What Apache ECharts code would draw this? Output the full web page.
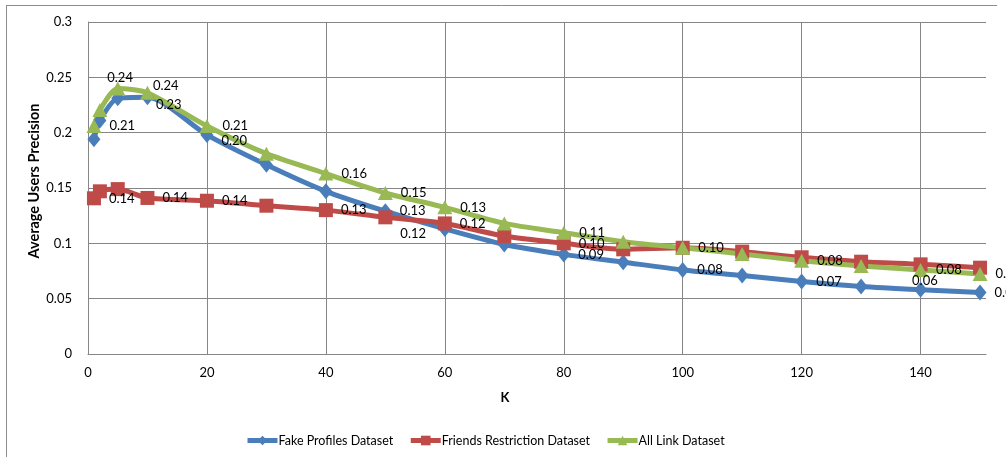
<!DOCTYPE html>
<html>
<head>
<meta charset="utf-8">
<script src="https://cdn.jsdelivr.net/npm/echarts@6/dist/echarts.min.js"></script>
<style>
html,body{margin:0;padding:0;background:#fff;}
#chart{width:1006px;height:457px;}
</style>
</head>
<body>
<div id="chart"></div>
<script>
// ---- data ----
const kValues = [1, 2, 5, 10, 20, 30, 40, 50, 60, 70, 80, 90, 100, 110, 120, 130, 140, 150];
const fakeProfiles = [0.194, 0.211, 0.231, 0.232, 0.198, 0.171, 0.147, 0.129, 0.113, 0.099, 0.090, 0.083, 0.076, 0.071, 0.0655, 0.061, 0.058, 0.0555];
const friendsRestriction = [0.1407, 0.147, 0.149, 0.141, 0.1385, 0.134, 0.130, 0.1235, 0.118, 0.1066, 0.100, 0.0946, 0.096, 0.0925, 0.0874, 0.0834, 0.081, 0.078];
const allLink = [0.206, 0.2205, 0.240, 0.236, 0.206, 0.181, 0.163, 0.1455, 0.1325, 0.118, 0.1096, 0.1015, 0.096, 0.0904, 0.0843, 0.0795, 0.0759, 0.0723];
const seriesNames = ['Fake Profiles Dataset', 'Friends Restriction Dataset', 'All Link Dataset'];
const yTicks = [0, 0.05, 0.1, 0.15, 0.2, 0.25, 0.3];

// ---- label placement (styling, by point index) ----
const labelSpec = [
  {3: [-6, 8], 4: [0, 6], 7: [0, 0], 10: [0, 0], 12: [0, 0], 14: [0, 0], 16: [-23, -9], 17: [0, 0]},
  {0: [0, 1], 3: [0, 0], 4: [0, 0], 6: [0, 0], 7: [0, 16], 8: [0, 0], 10: [0, 0]},
  {0: [0, 0], 2: [-26, -11], 3: [-10, -7], 4: [0, 0], 6: [0, 0], 7: [0, 0], 8: [0, 0], 10: [0, 0], 12: [0, 0], 14: [0, 0], 16: [0, 0], 17: [0, 0]}
];
const colors = ['#4A7EBB', '#BE4B48', '#98B954'];
const symbols = ['diamond', 'rect', 'triangle'];
const symbolSizes = [[13, 16], 14, [15, 14]];
const FONT = 'Lato';

function build(values, idx) {
  return values.map((v, i) => {
    const spec = labelSpec[idx][i];
    const item = { value: [kValues[i], v] };
    if (spec) item.label = { show: true, offset: spec };
    return item;
  });
}

const chart = echarts.init(document.getElementById('chart'), null, { renderer: 'canvas' });
const allSeries = [fakeProfiles, friendsRestriction, allLink].map((vals, idx) => ({
  name: seriesNames[idx],
  type: 'line',
  data: build(vals, idx),
  smooth: 0.25,
  symbol: symbols[idx],
  symbolSize: symbolSizes[idx],
  showAllSymbol: true,
  lineStyle: { width: 5, color: colors[idx] },
  itemStyle: { color: colors[idx] },
  label: {
    show: false,
    position: 'right',
    distance: 8,
    color: '#000',
    fontFamily: FONT,
    fontSize: 13,
    formatter: p => p.value[1].toFixed(2)
  },
  emphasis: { disabled: true },
  animation: false
}));

chart.setOption({
  animation: false,
  textStyle: { fontFamily: FONT },
  graphic: [
    { type: 'line', shape: { x1: 6, y1: 5.5, x2: 997, y2: 5.5 }, style: { stroke: '#8c8c8c', lineWidth: 1 }, silent: true },
    { type: 'line', shape: { x1: 6.5, y1: 5, x2: 6.5, y2: 457 }, style: { stroke: '#8c8c8c', lineWidth: 1 }, silent: true }
  ],
  grid: { left: 88, top: 22, right: 20, bottom: 103, containLabel: false },
  xAxis: {
    type: 'value',
    min: 0,
    max: 151,
    interval: 20,
    name: 'K',
    nameLocation: 'middle',
    nameGap: 37,
    nameMoveOverlap: false,
    nameTextStyle: { fontFamily: FONT, fontWeight: 'bold', fontSize: 13, color: '#000', padding: [0, 64, 0, 0] },
    axisLine: { show: true, lineStyle: { color: '#868686', width: 1 } },
    axisTick: { show: false },
    axisLabel: {
      color: '#000', fontFamily: FONT, fontSize: 13, margin: 12,
      formatter: v => (v % 20 === 0 ? String(v) : '')
    },
    splitLine: { show: true, showMaxLine: false, lineStyle: { color: '#868686', width: 1 } }
  },
  yAxis: {
    type: 'value',
    min: yTicks[0],
    max: yTicks[yTicks.length - 1],
    interval: 0.05,
    name: 'Average Users Precision',
    nameLocation: 'middle',
    nameRotate: 90,
    nameGap: 46,
    nameMoveOverlap: false,
    nameTextStyle: { fontFamily: FONT, fontWeight: 'bold', fontSize: 14.5, color: '#000', padding: [0, 0, 0, 14] },
    axisLine: { show: true, lineStyle: { color: '#868686', width: 1 } },
    axisTick: { show: false },
    axisLabel: { color: '#000', fontFamily: FONT, fontSize: 13, margin: 16 },
    splitLine: { show: true, lineStyle: { color: '#868686', width: 1 } }
  },
  legend: {
    data: seriesNames.map((n, i) => ({ name: n, lineStyle: { width: 5, color: colors[i] } })),
    left: 240,
    top: 429,
    itemWidth: 30,
    itemHeight: 12,
    itemGap: 15,
    textStyle: { fontFamily: FONT, fontSize: 12.5, color: '#000', padding: [0, 0, 0, -4] }
  },
  series: allSeries
});
</script>
</body>
</html>
